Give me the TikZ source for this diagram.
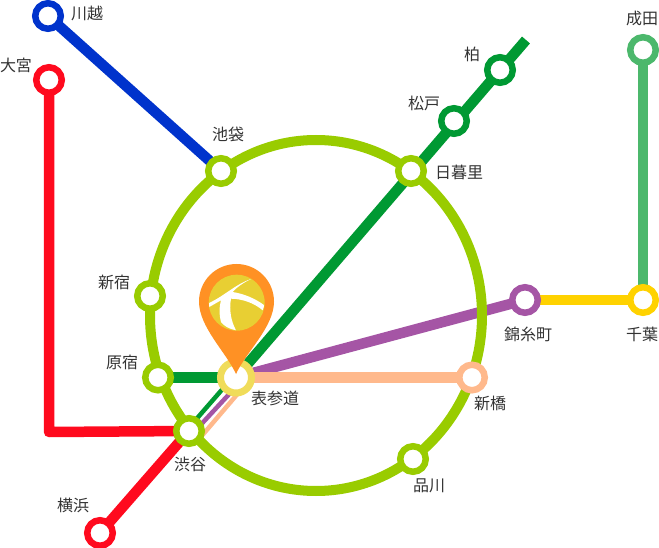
\documentclass[tikz,border=0pt]{standalone}
\usepackage{fontspec}
\newfontfamily\jpfont{Noto Sans CJK JP}
\usetikzlibrary{backgrounds}
\definecolor{cblue}{HTML}{0033CC}
\definecolor{cred}{HTML}{FF0A1E}
\definecolor{cgreen}{HTML}{009933}
\definecolor{clgreen}{HTML}{4CB86C}
\definecolor{cring}{HTML}{99CC00}
\definecolor{cpurple}{HTML}{A555A5}
\definecolor{cpeach}{HTML}{FFB98C}
\definecolor{cyellow}{HTML}{FFD200}
\definecolor{comote}{HTML}{F0DC5A}
\definecolor{corange}{HTML}{FF9124}
\definecolor{cball}{HTML}{E8CF33}
\definecolor{ctext}{HTML}{333333}
\tikzset{
  x=1pt,y=-1pt,
  sta/.style={circle,draw=#1,fill=white,line width=6.5pt,minimum size=25.5pt,inner sep=0pt,outer sep=0pt},
  lbl/.style={font=\jpfont\fontsize{16}{16}\selectfont,text=ctext,inner sep=0pt},
  track/.style={draw=#1,line width=10.5pt},
  thin track/.style={draw=#1,line width=4.5pt}
}
\begin{document}
\begin{tikzpicture}
\useasboundingbox (0,0) rectangle (659,548);
% stations
\node[sta=cblue] (kawagoe) at (48,16) {};
\node[sta=cred] (omiya) at (49,80) {};
\node[sta=cring] (ikebukuro) at (221,171) {};
\node[sta=cring] (nippori) at (411,171) {};
\node[sta=cgreen] (matsudo) at (454,121) {};
\node[sta=cgreen] (kashiwa) at (500,70) {};
\node[sta=clgreen] (narita) at (643,50) {};
\node[sta=cyellow] (chiba) at (643,300) {};
\node[sta=cpurple] (kinshicho) at (525,300) {};
\node[sta=cpeach] (shimbashi) at (472,377.5) {};
\node[sta=cring] (shinagawa) at (413,459) {};
\node[sta=comote,line width=7pt,minimum size=31pt] (omotesando) at (236,377.5) {};
\node[sta=cring] (harajuku) at (158,377.5) {};
\node[sta=cring] (shinjuku) at (150,296) {};
\node[sta=cring] (shibuya) at (189,431) {};
\node[sta=cred] (yokohama) at (100,533) {};
\coordinate (greenend) at (526,40);
\coordinate (ringc) at (316,315.5);
\coordinate (redcorner) at (49,432);
\coordinate (ga) at (233,377);
\coordinate (gb) at (186,431);
\coordinate (pa) at (241.3,381);
\coordinate (pb) at (195,431);
\coordinate (oa) at (247.7,382);
\coordinate (ob) at (200.8,437);
% labels
\node[lbl] (l1) at (87,13) {川越};
\node[lbl] (l2) at (16,65) {大宮};
\node[lbl] (l3) at (228,134) {池袋};
\node[lbl] (l4) at (459,172) {日暮里};
\node[lbl] (l5) at (424,103) {松戸};
\node[lbl] (l6) at (472,54) {柏};
\node[lbl] (l7) at (642,18) {成田};
\node[lbl] (l8) at (642,334) {千葉};
\node[lbl] (l9) at (528,334) {錦糸町};
\node[lbl] (l10) at (490,403) {新橋};
\node[lbl] (l11) at (429,486) {品川};
\node[lbl] (l12) at (275,398) {表参道};
\node[lbl] (l13) at (122,362) {原宿};
\node[lbl] (l14) at (114,282) {新宿};
\node[lbl] (l15) at (190,464) {渋谷};
\node[lbl] (l16) at (73,505) {横浜};
\begin{scope}[on background layer]
  \draw[track=cblue] (kawagoe) -- (ikebukuro);
  \draw[track=cred,line join=round] (omiya.center) -- (redcorner) -- (shibuya.center);
  \draw[track=cred] (shibuya.center) -- (yokohama);
  \draw[track=clgreen] (narita) -- (chiba);
  \draw[track=cyellow] (kinshicho) -- (chiba);
  \draw[track=cpurple] (omotesando.center) -- (kinshicho);
  \draw[track=cpeach] (omotesando.center) -- (shimbashi);
  \draw[track=cgreen] (omotesando.center) -- (greenend);
  \draw[track=cgreen] (harajuku) -- (omotesando);
  \draw[thin track=cgreen] (ga) -- (gb);
  \draw[thin track=cpurple] (pa) -- (pb);
  \draw[thin track=cpeach] (oa) -- (ob);
  \draw[draw=cring,line width=10pt] (ringc) ellipse [x radius=166,y radius=175.5];
\end{scope}
% pin
\fill[corange] (236,374) .. controls (226,352) and (199,327) .. (199,301.5)
  arc[start angle=180,end angle=360,radius=37.5]
  .. controls (274,327) and (246,352) .. (236,374) -- cycle;
\fill[cball] (236.7,302.7) circle[radius=28];
\begin{scope}
  \clip (236.7,302.7) circle[radius=28];
  \fill[white] (209,303) .. controls (226,295) and (234,285) .. (251,279)
    .. controls (243,283) and (237,287) .. (232.7,292)
    .. controls (245,294) and (256,299) .. (264.3,305.3)
    -- (262.7,310.3)
    .. controls (254,303) and (243,299) .. (231,298.7)
    .. controls (229,310) and (231,321) .. (236,330.3)
    .. controls (229,329) and (224,326) .. (221,322)
    .. controls (219,315) and (219,307) .. (221,300.3)
    -- (209.3,307) -- cycle;
\end{scope}
\end{tikzpicture}
\end{document}
